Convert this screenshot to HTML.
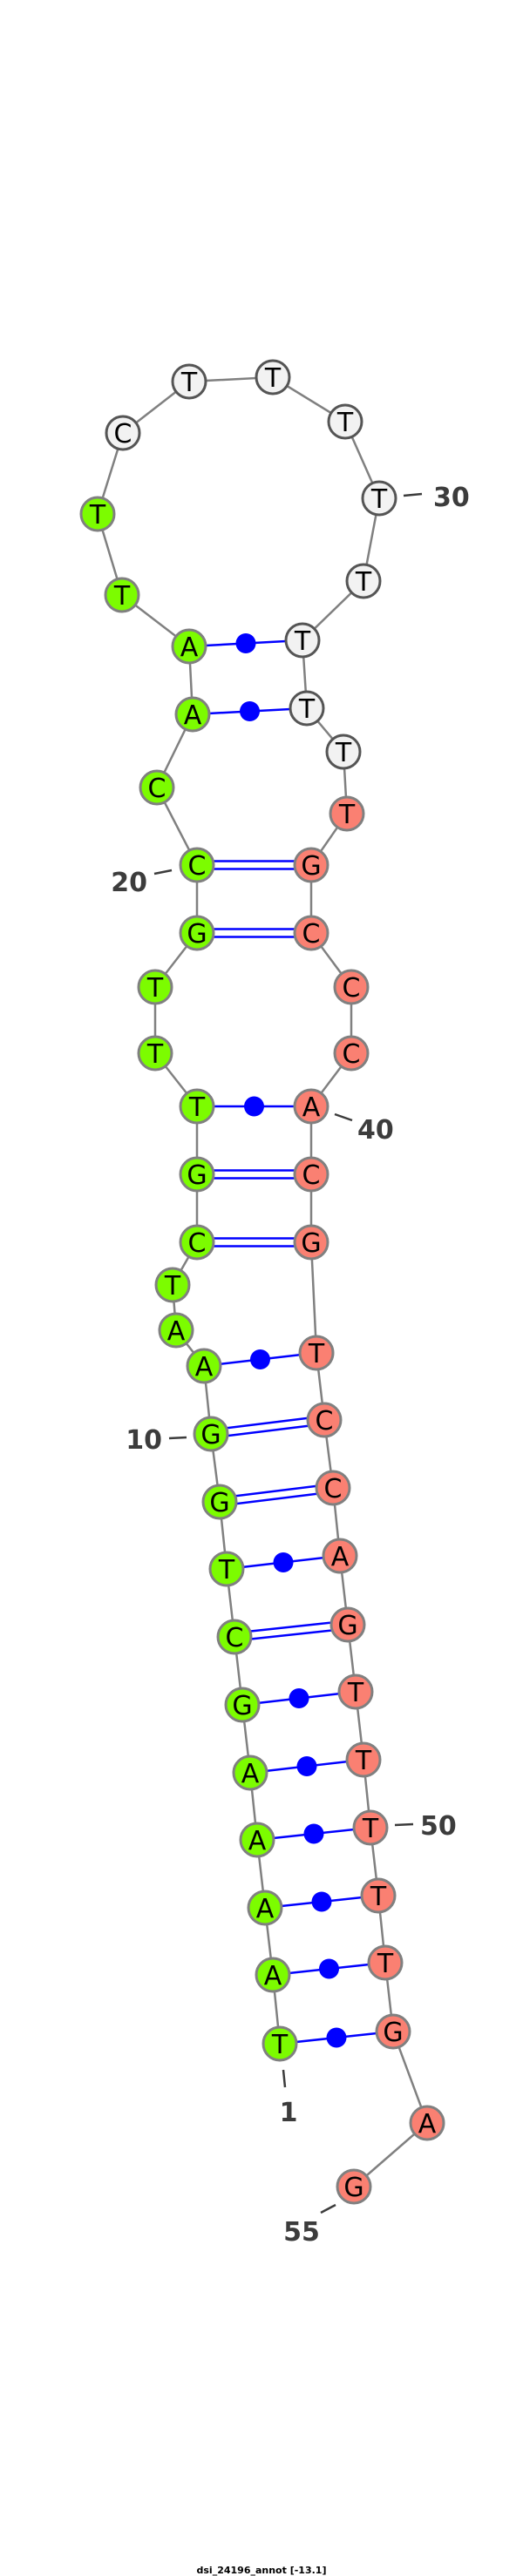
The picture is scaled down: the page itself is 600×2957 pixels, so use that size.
<!DOCTYPE html>
<html><head><meta charset="utf-8"><style>
html,body{margin:0;padding:0;background:#fff;}
svg{display:block;}
.b{stroke:#808080;stroke-width:2.5;fill:none;}
.p{stroke:#0000ff;stroke-width:2.5;fill:none;}
.n{stroke:#808080;stroke-width:3;}
.g{fill:#7cfc00;}
.s{fill:#fa8072;}
.w{fill:#f2f2f2;stroke:#555;}
.t{font-family:"DejaVu Sans","Liberation Sans",sans-serif;font-size:30px;text-anchor:middle;fill:#000;}
.l{font-family:"DejaVu Sans","Liberation Sans",sans-serif;font-size:30px;font-weight:bold;fill:#3c3c3c;}
.k{stroke:#3c3c3c;stroke-width:2.5;}
</style></head><body>
<svg width="600" height="2957" viewBox="0 0 600 2957" xmlns="http://www.w3.org/2000/svg">
<polyline class="b" points="321,2346 313,2267 304,2190 295,2112 287,2035 278,1957 269,1879 260,1801 252,1724 242,1646 234,1568 202,1527 198,1475 226,1426 226,1348 226,1270 178,1209 178,1133 226,1071 226,993 180,904 221,820 217,742 140,683 112,590 141,497 217,438 313,433 396,484 435,572 417,667 347,735 352,813 394,863 398,934 357,993 357,1071 403,1133 403,1209 357,1270 357,1348 357,1426 363,1553 372,1630 382,1708 390,1786 399,1865 408,1942 417,2020 425,2098 434,2176 442,2253 451,2332 490,2437 406,2510"/>
<!-- dot pairs -->
<g class="p">
<line x1="321" y1="2346" x2="451" y2="2332"/>
<line x1="313" y1="2267" x2="442" y2="2253"/>
<line x1="304" y1="2190" x2="434" y2="2176"/>
<line x1="295" y1="2112" x2="425" y2="2098"/>
<line x1="287" y1="2035" x2="417" y2="2020"/>
<line x1="278" y1="1957" x2="408" y2="1942"/>
<line x1="260" y1="1801" x2="390" y2="1786"/>
<line x1="234" y1="1568" x2="363" y2="1553"/>
<line x1="226" y1="1270" x2="357" y2="1270"/>
<line x1="221" y1="820" x2="352" y2="813"/>
<line x1="217" y1="742" x2="347" y2="735"/>
<!-- double pairs -->
<line x1="269" y1="1874.5" x2="399" y2="1860.5"/><line x1="269" y1="1883.5" x2="399" y2="1869.5"/>
<line x1="252" y1="1719.5" x2="382" y2="1703.5"/><line x1="252" y1="1728.5" x2="382" y2="1712.5"/>
<line x1="242" y1="1641.5" x2="372" y2="1625.5"/><line x1="242" y1="1650.5" x2="372" y2="1634.5"/>
<line x1="226" y1="1421.5" x2="357" y2="1421.5"/><line x1="226" y1="1430.5" x2="357" y2="1430.5"/>
<line x1="226" y1="1343.5" x2="357" y2="1343.5"/><line x1="226" y1="1352.5" x2="357" y2="1352.5"/>
<line x1="226" y1="1066.5" x2="357" y2="1066.5"/><line x1="226" y1="1075.5" x2="357" y2="1075.5"/>
<line x1="226" y1="988.5" x2="357" y2="988.5"/><line x1="226" y1="997.5" x2="357" y2="997.5"/>
</g>
<g fill="#0000ff">
<circle cx="386" cy="2339" r="11.5"/>
<circle cx="377.5" cy="2260" r="11.5"/>
<circle cx="369" cy="2183" r="11.5"/>
<circle cx="360" cy="2105" r="11.5"/>
<circle cx="352" cy="2027.5" r="11.5"/>
<circle cx="343" cy="1949.5" r="11.5"/>
<circle cx="325" cy="1793.5" r="11.5"/>
<circle cx="298.5" cy="1560.5" r="11.5"/>
<circle cx="291.5" cy="1270" r="11.5"/>
<circle cx="286.5" cy="816.5" r="11.5"/>
<circle cx="282" cy="738.5" r="11.5"/>
</g>
<!-- nodes -->
<g class="n">
<circle class="g" cx="321" cy="2346" r="19"/>
<circle class="g" cx="313" cy="2267" r="19"/>
<circle class="g" cx="304" cy="2190" r="19"/>
<circle class="g" cx="295" cy="2112" r="19"/>
<circle class="g" cx="287" cy="2035" r="19"/>
<circle class="g" cx="278" cy="1957" r="19"/>
<circle class="g" cx="269" cy="1879" r="19"/>
<circle class="g" cx="260" cy="1801" r="19"/>
<circle class="g" cx="252" cy="1724" r="19"/>
<circle class="g" cx="242" cy="1646" r="19"/>
<circle class="g" cx="234" cy="1568" r="19"/>
<circle class="g" cx="202" cy="1527" r="19"/>
<circle class="g" cx="198" cy="1475" r="19"/>
<circle class="g" cx="226" cy="1426" r="19"/>
<circle class="g" cx="226" cy="1348" r="19"/>
<circle class="g" cx="226" cy="1270" r="19"/>
<circle class="g" cx="178" cy="1209" r="19"/>
<circle class="g" cx="178" cy="1133" r="19"/>
<circle class="g" cx="226" cy="1071" r="19"/>
<circle class="g" cx="226" cy="993" r="19"/>
<circle class="g" cx="180" cy="904" r="19"/>
<circle class="g" cx="221" cy="820" r="19"/>
<circle class="g" cx="217" cy="742" r="19"/>
<circle class="g" cx="140" cy="683" r="19"/>
<circle class="g" cx="112" cy="590" r="19"/>
<circle class="w" cx="141" cy="497" r="19"/>
<circle class="w" cx="217" cy="438" r="19"/>
<circle class="w" cx="313" cy="433" r="19"/>
<circle class="w" cx="396" cy="484" r="19"/>
<circle class="w" cx="435" cy="572" r="19"/>
<circle class="w" cx="417" cy="667" r="19"/>
<circle class="w" cx="347" cy="735" r="19"/>
<circle class="w" cx="352" cy="813" r="19"/>
<circle class="w" cx="394" cy="863" r="19"/>
<circle class="s" cx="398" cy="934" r="19"/>
<circle class="s" cx="357" cy="993" r="19"/>
<circle class="s" cx="357" cy="1071" r="19"/>
<circle class="s" cx="403" cy="1133" r="19"/>
<circle class="s" cx="403" cy="1209" r="19"/>
<circle class="s" cx="357" cy="1270" r="19"/>
<circle class="s" cx="357" cy="1348" r="19"/>
<circle class="s" cx="357" cy="1426" r="19"/>
<circle class="s" cx="363" cy="1553" r="19"/>
<circle class="s" cx="372" cy="1630" r="19"/>
<circle class="s" cx="382" cy="1708" r="19"/>
<circle class="s" cx="390" cy="1786" r="19"/>
<circle class="s" cx="399" cy="1865" r="19"/>
<circle class="s" cx="408" cy="1942" r="19"/>
<circle class="s" cx="417" cy="2020" r="19"/>
<circle class="s" cx="425" cy="2098" r="19"/>
<circle class="s" cx="434" cy="2176" r="19"/>
<circle class="s" cx="442" cy="2253" r="19"/>
<circle class="s" cx="451" cy="2332" r="19"/>
<circle class="s" cx="490" cy="2437" r="19"/>
<circle class="s" cx="406" cy="2510" r="19"/>
</g>
<g class="t">
<text x="321" y="2357">T</text>
<text x="313" y="2278">A</text>
<text x="304" y="2201">A</text>
<text x="295" y="2123">A</text>
<text x="287" y="2046">A</text>
<text x="278" y="1968">G</text>
<text x="269" y="1890">C</text>
<text x="260" y="1812">T</text>
<text x="252" y="1735">G</text>
<text x="242" y="1657">G</text>
<text x="234" y="1579">A</text>
<text x="202" y="1538">A</text>
<text x="198" y="1486">T</text>
<text x="226" y="1437">C</text>
<text x="226" y="1359">G</text>
<text x="226" y="1281">T</text>
<text x="178" y="1220">T</text>
<text x="178" y="1144">T</text>
<text x="226" y="1082">G</text>
<text x="226" y="1004">C</text>
<text x="180" y="915">C</text>
<text x="221" y="831">A</text>
<text x="217" y="753">A</text>
<text x="140" y="694">T</text>
<text x="112" y="601">T</text>
<text x="141" y="508">C</text>
<text x="217" y="449">T</text>
<text x="313" y="444">T</text>
<text x="396" y="495">T</text>
<text x="435" y="583">T</text>
<text x="417" y="678">T</text>
<text x="347" y="746">T</text>
<text x="352" y="824">T</text>
<text x="394" y="874">T</text>
<text x="398" y="945">T</text>
<text x="357" y="1004">G</text>
<text x="357" y="1082">C</text>
<text x="403" y="1144">C</text>
<text x="403" y="1220">C</text>
<text x="357" y="1281">A</text>
<text x="357" y="1359">C</text>
<text x="357" y="1437">G</text>
<text x="363" y="1564">T</text>
<text x="372" y="1641">C</text>
<text x="382" y="1719">C</text>
<text x="390" y="1797">A</text>
<text x="399" y="1876">G</text>
<text x="408" y="1953">T</text>
<text x="417" y="2031">T</text>
<text x="425" y="2109">T</text>
<text x="434" y="2187">T</text>
<text x="442" y="2264">T</text>
<text x="451" y="2343">G</text>
<text x="490" y="2448">A</text>
<text x="406" y="2521">G</text>
</g>
<!-- index labels -->
<line class="k" x1="463" y1="569" x2="484" y2="567"/>
<text class="l" x="497" y="581">30</text>
<line class="k" x1="177" y1="1003" x2="197" y2="999"/>
<text class="l" x="169" y="1023" text-anchor="end">20</text>
<line class="k" x1="384" y1="1279" x2="404" y2="1286"/>
<text class="l" x="410" y="1307">40</text>
<line class="k" x1="194" y1="1651" x2="214" y2="1650"/>
<text class="l" x="186" y="1663" text-anchor="end">10</text>
<line class="k" x1="453" y1="2095" x2="474" y2="2094"/>
<text class="l" x="482" y="2106">50</text>
<line class="k" x1="325" y1="2376" x2="327" y2="2396"/>
<text class="l" x="331" y="2435" text-anchor="middle">1</text>
<line class="k" x1="368" y1="2540" x2="385" y2="2531"/>
<text class="l" x="346" y="2572" text-anchor="middle">55</text>
<text x="300" y="2954" text-anchor="middle" font-family="'DejaVu Sans','Liberation Sans',sans-serif" font-size="11" font-weight="bold" fill="#000">dsi_24196_annot [-13.1]</text>
</svg>
</body></html>
